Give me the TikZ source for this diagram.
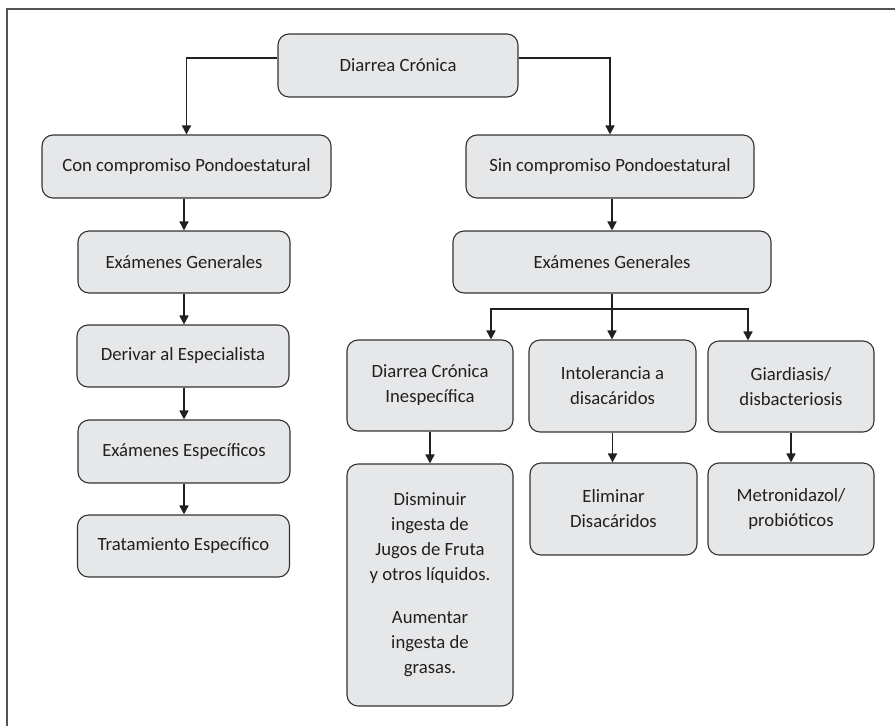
\documentclass[tikz,border=0pt]{standalone}
\usepackage{fontspec}
\setmainfont{Carlito}
\usetikzlibrary{arrows.meta,calc}
\definecolor{boxfill}{HTML}{E6E7E8}
\definecolor{boxdraw}{HTML}{333333}
\definecolor{txt}{HTML}{231F20}
\definecolor{frame}{HTML}{555555}
\begin{document}
\begin{tikzpicture}[x=1pt,y=-1pt,
  box/.style={draw=boxdraw,line width=1.1pt,fill=boxfill,rounded corners=11pt,
    align=center,inner sep=0pt,text=txt,font=\fontsize{18.7}{25}\selectfont},
  line/.style={draw=txt,line width=1.6pt},
  arr/.style={line,-{Triangle[width=9pt,length=9pt]}}]
\useasboundingbox (0,0) rectangle (895,726);
\draw[frame,line width=1.5pt] (7,726) -- (7,9) -- (895,9);
% nodes
\node[box,minimum width=240pt,minimum height=63pt] (dc) at (398,65.5) {Diarrea Crónica};
\node[box,minimum width=289pt,minimum height=63pt] (con) at (186.5,166.5) {Con compromiso Pondoestatural};
\node[box,minimum width=288pt,minimum height=63pt] (sin) at (610,166.5) {Sin compromiso Pondoestatural};
\node[box,minimum width=212pt,minimum height=62pt] (eg1) at (184,262) {Exámenes Generales};
\node[box,minimum width=212pt,minimum height=62pt] (der) at (183,356) {Derivar al Especialista};
\node[box,minimum width=212pt,minimum height=63pt] (esp) at (184,451.5) {Exámenes Específicos};
\node[box,minimum width=212pt,minimum height=62pt] (tra) at (183.5,546) {Tratamiento Específico};
\node[box,minimum width=318pt,minimum height=62pt] (eg2) at (612,262) {Exámenes Generales};
\node[box,minimum width=166pt,minimum height=91pt] (dci) at (430,385.5) {Diarrea Crónica\\Inespecífica};
\node[box,minimum width=167pt,minimum height=92pt] (int) at (612.5,386) {Intolerancia a\\disacáridos};
\node[box,minimum width=166pt,minimum height=91pt] (gia) at (791,386.5) {Giardiasis/\\disbacteriosis};
\node[box,minimum width=166pt,minimum height=242pt] (dis) at (430,585) {Disminuir\\ingesta de\\Jugos de Fruta\\y otros líquidos.\\[18pt]Aumentar\\ingesta de\\grasas.};
\node[box,minimum width=167pt,minimum height=92pt] (eli) at (613.5,509) {Eliminar\\Disacáridos};
\node[box,minimum width=166pt,minimum height=92pt] (met) at (791,509) {Metronidazol/\\probióticos};
% connectors
\draw[arr] ([yshift=7.5pt]dc.west) -| (con.north);
\draw[arr] ([yshift=7.5pt]dc.east) -| (sin.north);
\draw[arr] (eg1.north |- con.south) -- (eg1.north);
\draw[arr] (eg1.south) -- (der.north -| eg1.south);
\draw[arr] (eg1.south |- der.south) -- (esp.north);
\draw[arr] (esp.south) -- (tra.north -| esp.south);
\draw[arr] (eg2.north |- sin.south) -- (eg2.north);
\coordinate (br) at (612,309);
\draw[line] (eg2.south) -- (br);
\draw[arr] (br) -| ([xshift=61pt]dci.north);
\draw[arr] (br) -- (int.north -| br);
\draw[arr] (br) -| ([xshift=-43pt]gia.north);
\draw[arr] (dci.south) -- (dis.north);
\draw[arr] (int.south) -- (eli.north -| int.south);
\draw[arr] (gia.south) -- (met.north);
\end{tikzpicture}
\end{document}
